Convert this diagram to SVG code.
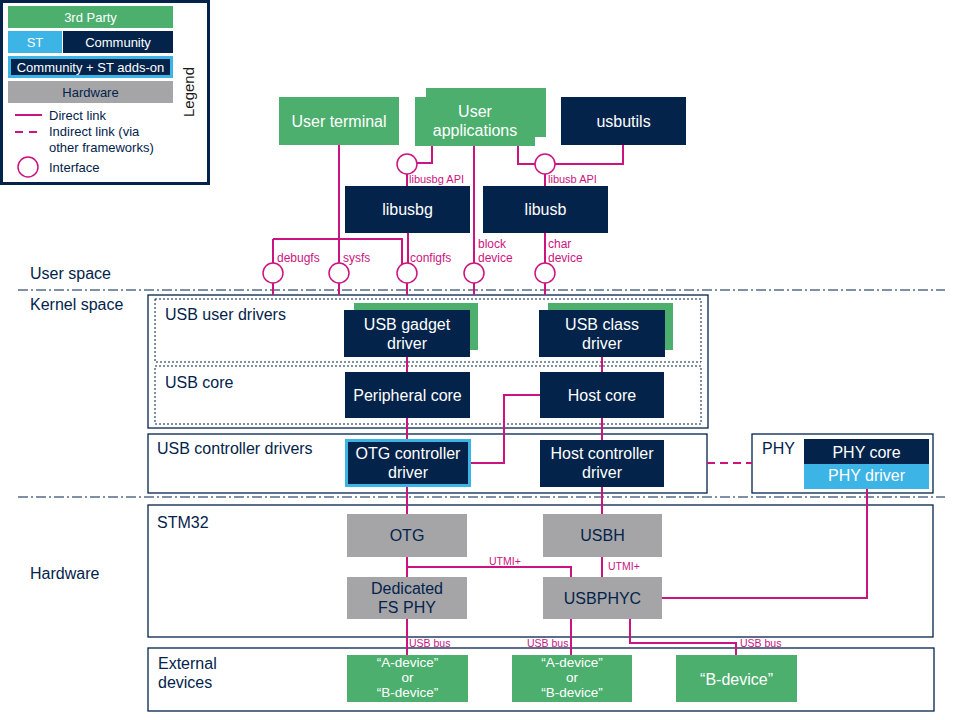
<svg xmlns="http://www.w3.org/2000/svg" width="960" height="720" viewBox="0 0 960 720">
<style>
text{font-family:"Liberation Sans",Arial,sans-serif}
.g{fill:#4CAF6E}
.n{fill:#03234B}
.b{fill:#3CB4E6}
.h{fill:#A5A5A8}
.t{fill:#fff;font-size:16px;text-anchor:middle}
.td{fill:#fff;font-size:13.5px;text-anchor:middle}
.th{fill:#03234B;font-size:16px;text-anchor:middle}
.sec{fill:#03234B;font-size:16px}
.frame{fill:none;stroke:#03234B;stroke-width:1.3}
.dash{fill:none;stroke:#03234B;stroke-width:1;stroke-dasharray:2 2}
.sep{stroke:#03234B;stroke-width:1;stroke-dasharray:10 3 2 3}
.ln{fill:none;stroke:#CC1480;stroke-width:2}
.if{fill:#fff;stroke:#CC1480;stroke-width:1.5}
.lbl{fill:#CC1480;font-size:12px}
.api{fill:#CC1480;font-size:11px}
.sl{fill:#CC1480;font-size:10.5px}
.lg{fill:#03234B;font-size:13px}
.lw{fill:#fff;font-size:13px;text-anchor:middle}
</style>
<rect width="960" height="720" fill="#fff"/>

<g id="legend">
<rect x="1.5" y="1.5" width="207" height="182" fill="#fff" stroke="#03234B" stroke-width="3"/>
<rect class="g" x="8" y="6" width="165" height="22"/>
<text class="lw" x="90.5" y="21.5">3rd Party</text>
<rect class="b" x="8" y="31" width="54" height="22"/>
<text class="lw" x="35" y="46.5">ST</text>
<rect class="n" x="63" y="31" width="110" height="22"/>
<text class="lw" x="118" y="46.5">Community</text>
<rect class="b" x="8" y="56" width="165" height="22"/>
<rect class="n" x="11" y="59" width="159" height="16"/>
<text class="lw" x="90.5" y="71.5">Community + ST adds-on</text>
<rect class="h" x="8" y="81" width="165" height="22"/>
<text class="lg" x="90.5" y="96.5" text-anchor="middle">Hardware</text>
<line class="ln" x1="15" y1="115" x2="42" y2="115"/>
<text class="lg" x="49" y="119.5">Direct link</text>
<line class="ln" x1="15" y1="132" x2="38" y2="132" stroke-dasharray="8 6"/>
<text class="lg" x="49" y="135.5">Indirect link (via</text>
<text class="lg" x="49" y="151.5">other frameworks)</text>
<circle class="if" cx="28" cy="167" r="10"/>
<text class="lg" x="49" y="171.5">Interface</text>
<text transform="translate(194,92) rotate(-90)" text-anchor="middle" font-size="15" fill="#1a1a1a">Legend</text>
</g>

<g id="sections">
<line class="sep" x1="18" y1="290" x2="945" y2="290"/>
<line class="sep" x1="18" y1="497" x2="945" y2="497"/>
<text class="sec" x="30" y="279">User space</text>
<text class="sec" x="30" y="310">Kernel space</text>
<text class="sec" x="30" y="579">Hardware</text>
<rect class="frame" x="148" y="295" width="560" height="133"/>
<rect class="dash" x="155" y="299" width="546" height="63"/>
<rect class="dash" x="155" y="366" width="546" height="58"/>
<text class="sec" x="165" y="320">USB user drivers</text>
<text class="sec" x="165" y="387.5">USB core</text>
<rect class="frame" x="148" y="434" width="559" height="59"/>
<text class="sec" x="157" y="454">USB controller drivers</text>
<rect class="frame" x="752" y="434" width="181" height="59"/>
<text class="sec" x="762" y="454">PHY</text>
<rect class="frame" x="148" y="505" width="785" height="132"/>
<text class="sec" x="157" y="527.5">STM32</text>
<rect class="frame" x="148" y="648" width="786" height="63"/>
<text class="sec" x="158" y="669">External</text>
<text class="sec" x="158" y="688">devices</text>
</g>

<g id="connectors">
<path class="ln" d="M339,145V263"/>
<path class="ln" d="M273,239H402V265"/>
<path class="ln" d="M273,239V263"/>
<path class="ln" d="M408,233V263"/>
<path class="ln" d="M474,146V263"/>
<path class="ln" d="M545,233V263"/>
<path class="ln" d="M273,283V295M339,283V295M407,283V295M474,283V295M545,283V295"/>
<path class="ln" d="M432,146V163H417"/>
<path class="ln" d="M407,174V186"/>
<path class="ln" d="M518,146V164H535"/>
<path class="ln" d="M555,164H623V145"/>
<path class="ln" d="M545,174V186"/>
<path class="ln" d="M407,357V372M407,418V439M602,357V372M602,418V440"/>
<path class="ln" d="M540,395H504V463H471"/>
<path class="ln" d="M407,487V514M602,487V514"/>
<path class="ln" d="M707,463H752" stroke-dasharray="8 5"/>
<path class="ln" d="M867,489V598H662"/>
<path class="ln" d="M407,557V577M407,567H571V577M602,557V577"/>
<path class="ln" d="M407,619V655M571,619V655"/>
<path class="ln" d="M630,619V643H736V655"/>
<text class="api" x="409" y="183">libusbg API</text>
<text class="api" x="548" y="183">libusb API</text>
<text class="lbl" x="277" y="261.5">debugfs</text>
<text class="lbl" x="343" y="261.5">sysfs</text>
<text class="lbl" x="410" y="261.5">configfs</text>
<text class="lbl" x="478" y="247.5">block</text>
<text class="lbl" x="478" y="261.5">device</text>
<text class="lbl" x="548" y="247.5">char</text>
<text class="lbl" x="548" y="261.5">device</text>
<text class="sl" x="489" y="565">UTMI+</text>
<text class="sl" x="608" y="570">UTMI+</text>
<text class="sl" x="409" y="647">USB bus</text>
<text class="sl" x="527" y="647">USB bus</text>
<text class="sl" x="740" y="647">USB bus</text>
</g>

<g id="interfaces">
<circle id="if-libusbg-api" class="if" cx="407" cy="164" r="10"/>
<circle id="if-libusb-api" class="if" cx="545" cy="164" r="10"/>
<circle id="if-debugfs" class="if" cx="273" cy="273" r="10"/>
<circle id="if-sysfs" class="if" cx="339" cy="273" r="10"/>
<circle id="if-configfs" class="if" cx="407" cy="273" r="10"/>
<circle id="if-block" class="if" cx="474" cy="273" r="10"/>
<circle id="if-char" class="if" cx="545" cy="273" r="10"/>
</g>

<g id="user-terminal"><rect class="g" x="279" y="97" width="120" height="48"/><text class="t" x="339" y="126.5">User terminal</text></g>
<g id="user-applications"><rect class="g" x="426" y="88" width="120" height="49"/><rect class="g" x="415" y="97" width="120" height="49"/><text class="t" x="475" y="117">User</text><text class="t" x="475" y="136">applications</text></g>
<g id="usbutils"><rect class="n" x="561" y="97" width="125" height="48"/><text class="t" x="623.5" y="126.5">usbutils</text></g>
<g id="libusbg"><rect class="n" x="345" y="186" width="125" height="47"/><text class="t" x="407.5" y="215">libusbg</text></g>
<g id="libusb"><rect class="n" x="483" y="186" width="125" height="47"/><text class="t" x="545.5" y="215">libusb</text></g>

<g id="usb-gadget-driver"><rect class="g" x="354" y="303" width="124" height="47"/><rect class="n" x="344" y="310" width="126" height="47"/><text class="t" x="407" y="329.5">USB gadget</text><text class="t" x="407" y="348.5">driver</text></g>
<g id="usb-class-driver"><rect class="g" x="548" y="303" width="125" height="47"/><rect class="n" x="539" y="310" width="126" height="47"/><text class="t" x="602" y="329.5">USB class</text><text class="t" x="602" y="348.5">driver</text></g>
<g id="peripheral-core"><rect class="n" x="345" y="372" width="125" height="46"/><text class="t" x="407.5" y="400.5">Peripheral core</text></g>
<g id="host-core"><rect class="n" x="540" y="372" width="124" height="46"/><text class="t" x="602" y="400.5">Host core</text></g>
<g id="otg-controller-driver"><rect class="b" x="345" y="439" width="126" height="48"/><rect class="n" x="348" y="442" width="120" height="42"/><text class="t" x="408" y="458.5">OTG controller</text><text class="t" x="408" y="477.5">driver</text></g>
<g id="host-controller-driver"><rect class="n" x="540" y="440" width="124" height="47"/><text class="t" x="602" y="458.5">Host controller</text><text class="t" x="602" y="477.5">driver</text></g>
<g id="phy-core"><rect class="n" x="804" y="439" width="125" height="25"/><text class="t" x="866.5" y="457.5">PHY core</text></g>
<g id="phy-driver"><rect class="b" x="804" y="464" width="125" height="25"/><text class="t" x="866.5" y="481">PHY driver</text></g>

<g id="otg"><rect class="h" x="347" y="514" width="120" height="43"/><text class="th" x="407" y="541">OTG</text></g>
<g id="usbh"><rect class="h" x="543" y="514" width="119" height="43"/><text class="th" x="602.5" y="541">USBH</text></g>
<g id="dedicated-fs-phy"><rect class="h" x="347" y="577" width="120" height="42"/><text class="th" x="407" y="593.5">Dedicated</text><text class="th" x="407" y="612.5">FS PHY</text></g>
<g id="usbphyc"><rect class="h" x="543" y="577" width="119" height="42"/><text class="th" x="602.5" y="604">USBPHYC</text></g>

<g id="device-1"><rect class="g" x="347" y="655" width="121" height="47"/><text class="td" x="407.5" y="666.5">“A-device”</text><text class="td" x="407.5" y="681.7">or</text><text class="td" x="407.5" y="697">“B-device”</text></g>
<g id="device-2"><rect class="g" x="512" y="655" width="120" height="47"/><text class="td" x="572" y="666.5">“A-device”</text><text class="td" x="572" y="681.7">or</text><text class="td" x="572" y="697">“B-device”</text></g>
<g id="device-3"><rect class="g" x="676" y="655" width="121" height="47"/><text class="t" x="736.5" y="684.5">“B-device”</text></g>
</svg>
